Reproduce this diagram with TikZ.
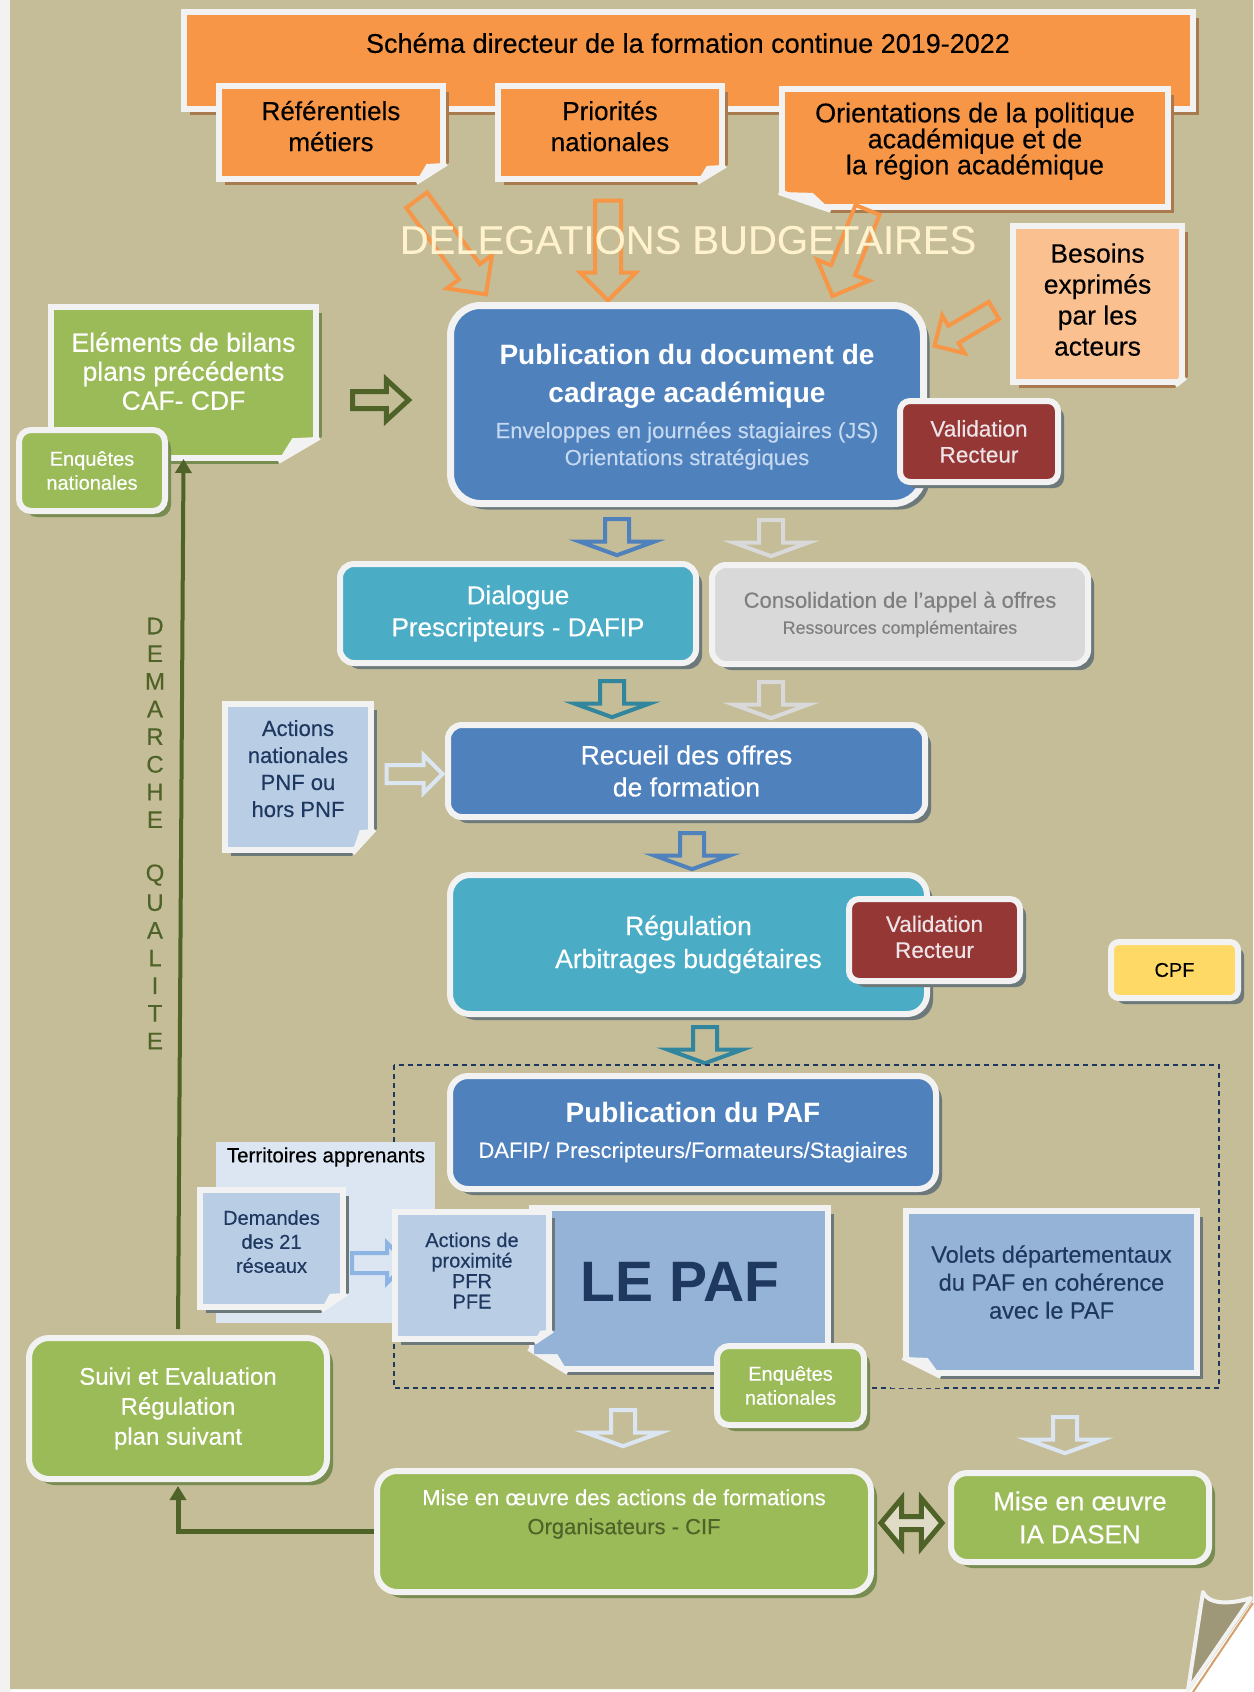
\documentclass[tikz,border=0pt]{standalone}
\usepackage{fontspec}
\setmainfont{Liberation Sans}[UprightFeatures={FakeBold=0.3}]
\usetikzlibrary{calc,shadows,shapes.arrows,arrows.meta,positioning}

\definecolor{paper}{RGB}{196,189,151}
\definecolor{edge}{RGB}{242,242,242}
\definecolor{orangec}{RGB}{247,150,70}
\definecolor{peach}{RGB}{250,192,144}
\definecolor{greenc}{RGB}{155,187,89}
\definecolor{darkgreen}{RGB}{79,98,40}
\definecolor{bluec}{RGB}{79,129,189}
\definecolor{tealc}{RGB}{75,172,198}
\definecolor{darkteal}{RGB}{49,133,156}
\definecolor{greyc}{RGB}{217,217,217}
\definecolor{greytext}{RGB}{127,127,127}
\definecolor{redc}{RGB}{149,55,53}
\definecolor{redtext}{RGB}{238,228,232}
\definecolor{paleblue}{RGB}{185,205,229}
\definecolor{midblue}{RGB}{149,179,215}
\definecolor{pale}{RGB}{220,230,242}
\definecolor{navy}{RGB}{31,56,96}
\definecolor{yellowc}{RGB}{255,217,102}
\definecolor{cream}{RGB}{255,242,204}
\definecolor{subblue}{RGB}{198,217,241}
\definecolor{lightarrow}{RGB}{141,180,226}
\definecolor{shbrown}{RGB}{168,122,78}
\definecolor{shgreen}{RGB}{120,140,82}
\definecolor{shgrey}{RGB}{108,120,122}
\definecolor{foldgrey}{RGB}{158,152,120}
\definecolor{curl}{RGB}{214,160,110}

\newcommand\fs[2]{\fontsize{#1}{#2}\selectfont}

% dog-ear at the lower right / lower left corner of a note
\newcommand\foldse[4]{%
  \fill[#4] ($(#1.south east)+(-#2,3)$) -- ($(#1.south east)+(3,-#3)$) -- ($(#1.south east)+(12,-#3)$)
    -- ($(#1.south east)+(12,12)$) -- ($(#1.south east)+(-#2,12)$) -- cycle;
  \draw[edge,line width=6pt] ($(#1.south east)+(-#2,0)$) -- ($(#1.south east)+(0,-#3)$);
  \fill[edge] ($(#1.south east)+(-#2,0)$) -- ($(#1.south east)+(0,-#3)$) -- ($(#1.south east)+(-0.65*#2,-0.95*#3)$) -- cycle;
}
\newcommand\foldsw[4]{%
  \fill[#4] ($(#1.south west)+(#2,3)$) -- ($(#1.south west)+(-3,-#3)$) -- ($(#1.south west)+(-12,-#3)$)
    -- ($(#1.south west)+(-12,12)$) -- ($(#1.south west)+(#2,12)$) -- cycle;
  \draw[edge,line width=6pt] ($(#1.south west)+(#2,0)$) -- ($(#1.south west)+(0,-#3)$);
  \fill[edge] ($(#1.south west)+(#2,0)$) -- ($(#1.south west)+(0,-#3)$) -- ($(#1.south west)+(0.65*#2,-0.95*#3)$) -- cycle;
}

\tikzset{
  card/.style={rectangle, draw=edge, line width=6pt, align=center, inner sep=0pt},
  dropsh/.style={drop shadow={shadow xshift=6pt, shadow yshift=-6pt, fill=#1, opacity=1}},
  rbox/.style={card, rounded corners=#1},
  onote/.style={card, fill=orangec, dropsh=shbrown, text=black, font=\fs{26}{31}},
  gnote/.style={card, fill=greenc, dropsh=shgreen, text=white, font=\fs{26.5}{29}},
  bnote/.style={card, fill=paleblue, dropsh=shgrey, text=navy, font=\fs{22}{27}},
  pafnote/.style={card, fill=midblue, dropsh=shgrey, text=navy},
  gbox/.style={rbox=#1, fill=greenc, dropsh=shgreen, text=white},
  bbox/.style={rbox=#1, fill=bluec, dropsh=shgrey, text=white, font=\fs{26.5}{32}},
  tbox/.style={rbox=#1, fill=tealc, dropsh=shgrey, text=white, font=\fs{26}{32}},
  valid/.style={rbox=10pt, fill=redc, dropsh=shgrey, text=redtext, font=\fs{22.5}{26}},
  hollow/.style={single arrow, draw=#1, line width=4pt, fill=none, inner xsep=0pt,
    single arrow head indent=0pt, minimum width=0pt},
  bigarrow/.style={hollow=orangec, inner ysep=11pt, single arrow head extend=15pt, single arrow tip angle=90},
  droparrow/.style={hollow=#1, minimum height=36pt, inner ysep=10pt,
    single arrow head extend=25pt, single arrow tip angle=140, rotate=-90},
  qual/.style={text=darkgreen, font=\fs{24}{24}, inner sep=0pt},
  loop/.style={darkgreen, line width=5pt, -{Triangle[length=14pt,width=16pt]}},
}

\begin{document}
\begin{tikzpicture}[x=1pt,y=-1pt]
\useasboundingbox (0,0) rectangle (1253,1692);

% sheet
\fill[white] (0,0) rectangle (1253,1692);
\fill[black!5] (0,0) rectangle (11,1692);
\fill[paper] (10,0) -- (1253,0) -- (1253,1600) -- (1191,1689) -- (10,1689) -- cycle;
\draw[curl,line width=2pt] (1253,1603) -- (1193,1692);
\filldraw[fill=foldgrey,draw=edge,line width=4pt,line join=round] (1203,1592) .. controls (1208,1604) and (1228,1605) .. (1251,1598) -- (1188,1690) -- cycle;

% top notes
\node[card, fill=orangec, dropsh=shbrown, minimum width=1009pt, minimum height=97pt] (schema) at (688.5,60.5) {};
\node[text=black, font=\fs{27}{30}] (schematxt) at (688,43) {Schéma directeur de la formation continue 2019-2022};
\node[onote, text depth=13pt, minimum width=224pt, minimum height=93pt] (refer) at (331,132.5) {Référentiels\\métiers};
\foldse{refer}{30}{19}{paper}
\node[onote, text depth=13pt, minimum width=224pt, minimum height=93pt] (prio) at (610,132.5) {Priorités\\nationales};
\foldse{prio}{28}{17}{paper}
\node[onote, font=\fs{27}{26}, text depth=19pt, minimum width=386pt, minimum height=118pt] (orient) at (975,148) {Orientations de la politique\\académique et de\\la région académique};
\foldsw{orient}{52}{18}{paper}

\node[bigarrow, minimum height=117pt, rotate=-53.7] (oarr1) at (447.5,242) {};
\node[bigarrow, minimum height=100pt, rotate=-90] (oarr2) at (608,244) {};
\node[bigarrow, minimum height=93pt, rotate=-112.1] (oarr3) at (852.5,247) {};
\node[bigarrow, minimum height=69pt, inner ysep=8pt, single arrow head extend=12pt, rotate=-149.3] (oarr4) at (968.5,325.5) {};

\node[text=cream, font=\fs{40}{44}] (deleg) at (688,240) {DELEGATIONS BUDGETAIRES};

\node[card, fill=peach, dropsh=shbrown, text=black, font=\fs{26.5}{31}, text depth=9pt, minimum width=169pt, minimum height=156pt] (besoins) at (1097.5,304) {Besoins\\exprimés\\par les\\acteurs};
\foldse{besoins}{10}{8}{paper}

% left inputs
\node[gnote, text depth=23pt, minimum width=265pt, minimum height=151pt] (elem) at (183.5,382.5) {Eléments de bilans\\plans précédents\\CAF- CDF};
\foldse{elem}{41}{24}{paper}
\node[gbox=12pt, font=\fs{20}{24}, minimum width=146pt, minimum height=81pt] (enq1) at (92,470.5) {Enquêtes\\nationales};
\node[hollow=darkgreen, line width=5pt, minimum height=56pt, inner ysep=6pt, single arrow head extend=12pt, single arrow tip angle=85] (garr) at (376,400) {};

% cadrage
\node[bbox=30pt, line width=7pt, font=\fs{22}{27}, text depth=-3.5pt, minimum width=473pt, minimum height=198pt] (cadre) at (687,404.5)
  {{\fs{28}{38}\bfseries Publication du document de}\\[11pt]{\fs{28}{38}\bfseries cadrage académique}\\[9pt]
   {\color{subblue}Enveloppes en journées stagiaires (JS)}\\{\color{subblue}Orientations stratégiques}};
\node[valid, minimum width=158pt, minimum height=81pt] (val1) at (979,441.5) {Validation\\Recteur};

\node[droparrow=bluec] (darr1) at (617,535) {};
\node[droparrow=greyc] (darr2) at (771,536) {};

\node[tbox=14pt, minimum width=356pt, minimum height=99pt] (dial) at (518,613.5) {Dialogue\\Prescripteurs - DAFIP};
\node[rbox=14pt, fill=greyc, dropsh=shgrey, text=greytext, font=\fs{22}{26}, minimum width=376pt, minimum height=99pt] (conso) at (900,614.5)
  {Consolidation de l’appel à offres\\{\fs{17.8}{26}Ressources complémentaires}};

\node[droparrow=darkteal] (darr3) at (612,697) {};
\node[droparrow=greyc] (darr4) at (771,698) {};

\node[bnote, text depth=17pt, minimum width=146pt, minimum height=146pt] (actnat) at (298,777) {Actions\\nationales\\PNF ou\\hors PNF};
\foldse{actnat}{22}{24}{paper}
\node[hollow=pale, minimum height=56pt, inner ysep=7pt, single arrow head extend=10pt, single arrow tip angle=90] (parr) at (410,774) {};

\node[bbox=14pt, minimum width=477pt, minimum height=92pt] (recueil) at (686.5,771) {Recueil des offres\\de formation};
\node[droparrow=bluec] (darr5) at (692,849) {};

\node[tbox=20pt, font=\fs{26.5}{33}, minimum width=477pt, minimum height=139pt] (regul) at (688.5,944.5) {Régulation\\Arbitrages budgétaires};
\node[valid, text depth=6.5pt, minimum width=171pt, minimum height=82pt] (val2) at (934.5,940) {Validation\\Recteur};
\node[rbox=8pt, fill=yellowc, dropsh=shgrey, text=black, font=\fs{20}{24}, minimum width=127pt, minimum height=56pt] (cpf) at (1174.5,970) {CPF};

\node[droparrow=darkteal] (darr6) at (705,1043) {};

% PAF
\draw[navy, line width=1.2pt, dash pattern=on 5pt off 4pt] (394,1065) rectangle (1219,1388);
\node[bbox=18pt, font=\fs{22}{35}, minimum width=486pt, minimum height=113pt] (pubpaf) at (693,1132.5)
  {{\fs{28}{35}\bfseries Publication du PAF}\\DAFIP/ Prescripteurs/Formateurs/Stagiaires};

\fill[pale] (216,1142) rectangle (435,1323);
\node[text=black, font=\fs{20.5}{22}] (terr) at (326,1157) {Territoires apprenants};
\node[bnote, font=\fs{20}{24}, text depth=14pt, minimum width=143pt, minimum height=117pt] (dem) at (271.5,1248.5) {Demandes\\des 21\\réseaux};
\foldse{dem}{25}{17}{pale}
\node[hollow=lightarrow, minimum height=55pt, inner ysep=8pt, single arrow head extend=10pt, single arrow tip angle=90] (barr) at (374.5,1263) {};

\node[pafnote, font=\fs{57}{60}\bfseries, text depth=13pt, minimum width=296pt, minimum height=161pt] (lepaf) at (680,1288.5) {LE PAF};
\foldsw{lepaf}{39}{24}{paper}
\node[bnote, font=\fs{20}{20.5}, text depth=10pt, minimum width=154pt, minimum height=127pt] (prox) at (472,1275.5) {Actions de\\proximité\\PFR\\PFE};
\foldse{prox}{18}{12}{midblue}
\node[gbox=12pt, font=\fs{20}{24}, minimum width=147pt, minimum height=79pt] (enq2) at (790.5,1385.5) {Enquêtes\\nationales};

\node[pafnote, font=\fs{23.5}{28}, text depth=20pt, minimum width=291pt, minimum height=162pt] (volets) at (1051.5,1292) {Volets départementaux\\du PAF en cohérence\\avec le PAF};
\foldsw{volets}{38}{19}{paper}

\node[droparrow=pale] (darr7) at (623,1426) {};
\node[droparrow=pale] (darr8) at (1065,1433) {};

% bottom
\node[gbox=20pt, font=\fs{24}{30}, minimum width=298pt, minimum height=141pt] (suivi) at (178,1408.5) {Suivi et Evaluation\\Régulation\\plan suivant};
\node[gbox=20pt, minimum width=494pt, minimum height=121pt] (mise) at (624,1531.5) {};
\node[text=white, font=\fs{22}{29}, align=center] (misetxt) at (624,1514) {Mise en œuvre des actions de formations\\{\color{darkgreen}Organisateurs - CIF}};
\node[gbox=16pt, font=\fs{26}{33}, minimum width=258pt, minimum height=89pt] (dasen) at (1080,1517.5) {Mise en œuvre\\IA DASEN};
\node[double arrow, draw=darkgreen, fill=paper!55!white, line width=5pt, inner xsep=0pt, inner ysep=4pt, minimum width=0pt,
  minimum height=61pt, double arrow head extend=18pt, double arrow tip angle=100] (dblarr) at (911.5,1523) {};

\draw[loop, shorten >=4pt] (mise.west) -- (mise.west -| suivi.south) -- (suivi.south);
\draw[loop, line width=4pt, shorten <=6pt, shorten >=-2pt] (suivi.north) -- (elem.south);

\foreach \ch [count=\i from 0] in {D,E,M,A,R,C,H,E,{},Q,U,A,L,I,T,E}
  \node[qual] (q\i) at (155,{626+27.67*\i}) {\ch};
\end{tikzpicture}
\end{document}
